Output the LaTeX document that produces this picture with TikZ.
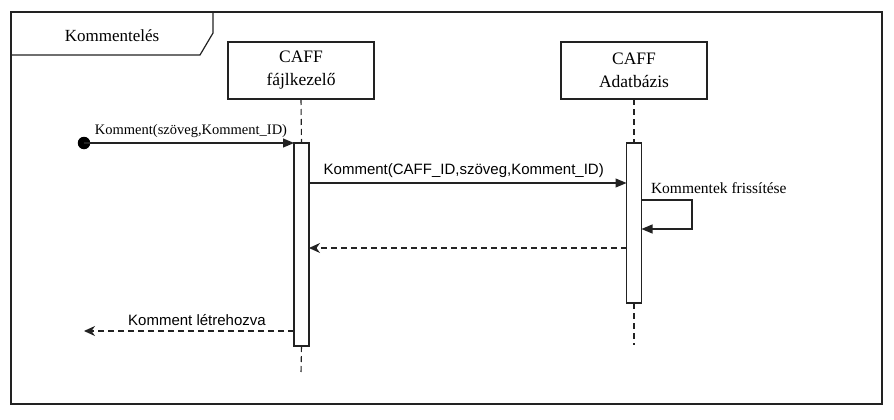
\documentclass[tikz,border=0pt]{standalone}
\usepackage{fontspec}
\setmainfont{Liberation Serif}
\newfontfamily\arialf{Liberation Sans}
\usetikzlibrary{arrows.meta,calc}
\definecolor{ln}{HTML}{222222}
\begin{document}
\begin{tikzpicture}[x=1pt,y=-1pt,
  every node/.style={inner sep=0pt, outer sep=0pt},
  headbox/.style={draw=ln, line width=1.2pt, fill=white, minimum width=146pt, minimum height=57pt, align=center, font=\fontsize{17.5}{23}\selectfont},
  actbox/.style={draw=ln, line width=1.2pt, fill=white, minimum width=15pt, anchor=north},
  life/.style={draw=ln, line width=1.1pt, dash pattern=on 6pt off 4pt},
  msg/.style={draw=ln, line width=1.2pt, -{Triangle[length=11pt,width=9pt]}},
  ret/.style={draw=ln, line width=1.1pt, dash pattern=on 6pt off 4pt, -{Stealth[length=11pt,width=10pt,inset=3.5pt]}},
  serlab/.style={font=\fontsize{14.5}{17}\selectfont},
  sanlab/.style={font=\arialf\fontsize{15}{18}\selectfont}
]
\useasboundingbox (0,0) rectangle (894,420);
% frame
\node[draw=ln, line width=1.4pt, minimum width=871pt, minimum height=392pt, anchor=north west] (frame) at (11,12) {};
\draw[ln, line width=1.2pt] (frame.north west) -- (213,12) -- (213,33) -- (200,55) -- (11,55);
\node[font=\fontsize{17}{20}\selectfont] (title) at (112,36) {Kommentelés};
% lifelines
\node[headbox] (h1) at (301,70.5) {CAFF\\fájlkezelő};
\node[headbox] (h2) at (634,70.5) {CAFF\\Adatbázis};
\node[actbox, minimum height=203pt] (a1) at (301.5,143) {};
\node[actbox, minimum height=160pt] (a2) at (634,143) {};
\coordinate (e1) at (301,373);
\coordinate (e2) at (634,345);
\draw[life] (h1.south) -- (a1.north);
\draw[life] (a1.south) -- (e1);
\draw[life] (h2.south) -- (a2.north);
\draw[life] (a2.south) -- (e2);
% message 1
\node[circle, fill=black, minimum size=12.5pt] (start) at (84,143) {};
\draw[msg] (start.center) -- (a1.north west) node[midway, above=5pt, serlab, xshift=2pt] (l1) {Komment(szöveg,Komment\_ID)};
% message 2
\coordinate (m2) at (0,183);
\draw[msg] (a1.east |- m2) -- (a2.west |- m2) node[midway, above=5pt, sanlab, xshift=-4pt] (l2) {Komment(CAFF\_ID,szöveg,Komment\_ID)};
% self message
\coordinate (s1) at (692,200);
\coordinate (s2) at (692,229);
\draw[msg] (a2.east |- s1) -- (s1) -- (s2) -- (a2.east |- s2);
\node[font=\fontsize{15.5}{18}\selectfont, anchor=base west] (l3) at (651,193) {Kommentek frissítése};
% return
\coordinate (m3) at (0,248);
\draw[ret] (a2.west |- m3) -- (a1.east |- m3);
% final return
\coordinate (m4) at (0,331);
\coordinate (endp) at (84,331);
\draw[ret] (a1.west |- m4) -- (endp) node[midway, above=5pt, sanlab, xshift=8pt] (l4) {Komment létrehozva};
\end{tikzpicture}
\end{document}
